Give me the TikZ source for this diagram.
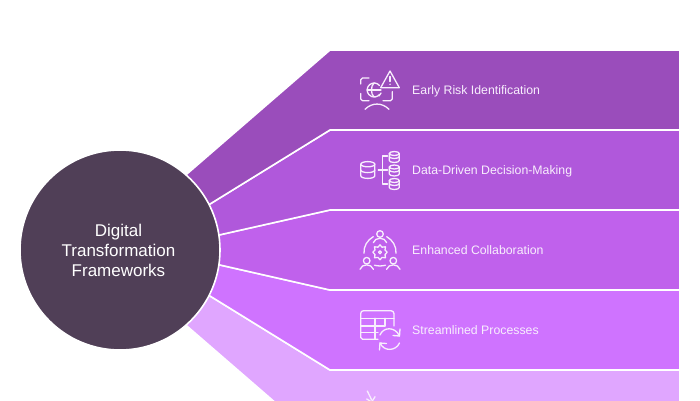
\documentclass[tikz,border=0pt]{standalone}
\usepackage{fontspec}
\setmainfont{Liberation Sans}
\definecolor{bandA}{HTML}{9A4DBB}
\definecolor{bandB}{HTML}{B058DB}
\definecolor{bandC}{HTML}{C061EC}
\definecolor{bandD}{HTML}{CF73FF}
\definecolor{bandE}{HTML}{E0A6FF}
\definecolor{hub}{HTML}{503F57}
\definecolor{ink}{HTML}{F8EEFD}
\tikzset{
  bandshape/.style={draw=white,line width=1.6pt,line join=miter},
  iconline/.style={draw=ink,line width=1.3pt,line cap=round,line join=round,fill=none},
  bandlabel/.style={anchor=base west,inner sep=0pt,text=ink,font=\fontsize{12.3}{15}\selectfont},
  hubnode/.style={circle,draw=white,line width=1.6pt,fill=hub,minimum size=200pt,inner sep=0pt},
  hubtext/.style={align=center,inner sep=0pt,text=white,font=\fontsize{17}{20}\selectfont}
}
\begin{document}
\begin{tikzpicture}[x=1pt,y=-1pt]
\useasboundingbox (0,0) rectangle (700,400);
\fill[white] (0,0) rectangle (700,400);
\begin{scope}
\clip (0,0) rectangle (700,400);
\path[bandshape,fill=bandE] (120,250)--(210,296)--(330,370)--(680,370)--(680,450)--(330,450)--(186.4,325.6)--cycle;
\path[bandshape,fill=bandD] (120,250)--(220,265)--(330,290)--(680,290)--(680,370)--(330,370)--(210,296)--cycle;
\path[bandshape,fill=bandC] (120,250)--(219,235)--(330,210)--(680,210)--(680,290)--(330,290)--(220,265)--cycle;
\path[bandshape,fill=bandB] (120,250)--(210,204)--(330,130)--(680,130)--(680,210)--(330,210)--(219,235)--cycle;
\path[bandshape,fill=bandA] (120,250)--(186.4,174.4)--(330,50)--(680,50)--(680,130)--(330,130)--(210,204)--cycle;
\end{scope}
\node[hubnode] (hubc) at (120,250) {};
\node[hubtext] (hubt) at (118.5,250.4) {Digital\\Transformation\\Frameworks};
\node[bandlabel] (l1) at (412,94.3) {Early Risk Identification};
\node[bandlabel] (l2) at (412,174.3) {Data-Driven Decision-Making};
\node[bandlabel] (l3) at (412,254.3) {Enhanced Collaboration};
\node[bandlabel] (l4) at (412,334.3) {Streamlined Processes};
% icon 1
\begin{scope}[iconline]
\draw (369,78)--(362.5,78) arc[start angle=-90,end angle=-180,radius=1.8] --(360.7,84);
\draw (360.7,93.5)--(360.7,98.9) arc[start angle=180,end angle=90,radius=1.8] --(369,100.7);
\draw (383,100.7)--(390.5,100.7) arc[start angle=90,end angle=0,radius=1.8] --(392.3,91.7);
\draw (379.5,85.5) arc[start angle=-40,end angle=-320,radius=7] ;
\draw (374.2,82.8) .. controls (370.5,86) and (370.5,94) .. (374.2,97.2);
\draw (367,90)--(381,90);
\draw (381,93)--(379,96);
\draw (390,71) -- (399.3,87.7) -- (380.7,87.7) -- cycle;
\draw (390,76.5)--(390,81.5);
\fill[ink] (390,84.3) circle (0.8);
\draw (365,109.3) .. controls (372,102.3) and (382,102.3) .. (389,109.3);
\end{scope}
% icon 2
\begin{scope}[iconline]
\draw (367.8,164.2) ellipse (7 and 2.6);
\draw (360.8,164.2)--(360.8,175.8) arc[start angle=180,end angle=0,x radius=7,y radius=2.6] --(374.8,164.2);
\draw (360.8,170) arc[start angle=180,end angle=0,x radius=7,y radius=2.6];
\foreach \yy in {151.5,165,178.5} {
  \draw (394.3,\yy+2) ellipse (5 and 2);
  \draw (389.3,\yy+2)--(389.3,\yy+9) arc[start angle=180,end angle=0,x radius=5,y radius=2] --(399.3,\yy+2);
  \draw (389.3,\yy+5) arc[start angle=180,end angle=0,x radius=5,y radius=2];
}
\draw (378.3,170)--(387.5,170);
\draw (387.5,156)--(382.7,156)--(382.7,184)--(387.5,184);
\end{scope}
% icon 3
\begin{scope}[iconline]
\draw (380,234) circle (3.3);
\draw (373.3,242.7) .. controls (375,236.8) and (385,236.8) .. (386.7,242.7);
\foreach \xx in {366.7,393.3} {
  \draw (\xx,260.7) circle (3.3);
  \draw (\xx-6.7,269.3) .. controls (\xx-5,263.4) and (\xx+5,263.4) .. (\xx+6.7,269.3);
}
\draw (364,253.3) .. controls (363.5,246) and (367.5,240) .. (373.3,236.7);
\draw (396,253.3) .. controls (396.5,246) and (392.5,240) .. (386.7,236.7);
\draw (374.5,265.2) .. controls (378,266.2) and (382,266.2) .. (385.5,265.2);
\draw (380,244.8)--(382,247.2)--(385.5,246.8)--(385,250)--(387.2,252.3)--(385,254.6)--(385.5,257.8)--(382,257.4)--(380,259.8)--(378,257.4)--(374.5,257.8)--(375,254.6)--(372.8,252.3)--(375,250)--(374.5,246.8)--(378,247.2)--cycle;
\draw (380,252.3) circle (1.5);
\end{scope}
% icon 4
\begin{scope}[iconline]
\draw (378,339.3)--(362.5,339.3) arc[start angle=90,end angle=180,radius=1.8] --(360.7,313.5) arc[start angle=180,end angle=270,radius=2.8] --(391,310.7) arc[start angle=-90,end angle=0,radius=3] --(394,326);
\draw (360.7,318.3)--(394,318.3);
\draw (360.7,326)--(385,326);
\draw (360.7,332.7)--(378,332.7);
\draw (375,318.3)--(375,339);
\draw (385,318.3)--(385,326);
\draw (380,335) .. controls (383,327) and (395,326) .. (399.5,336);
\draw (400,329)--(399.5,336)--(393,335.5);
\draw (399.5,343) .. controls (396,351) and (384,352) .. (380,343);
\draw (379.5,350)--(380,343)--(386.5,343.5);
\end{scope}
% icon 5
\begin{scope}[iconline]
\draw (367.3,391)--(371.7,400);
\draw (366.7,399)--(371.7,402)--(375,396.7);
\end{scope}
\end{tikzpicture}
\end{document}
